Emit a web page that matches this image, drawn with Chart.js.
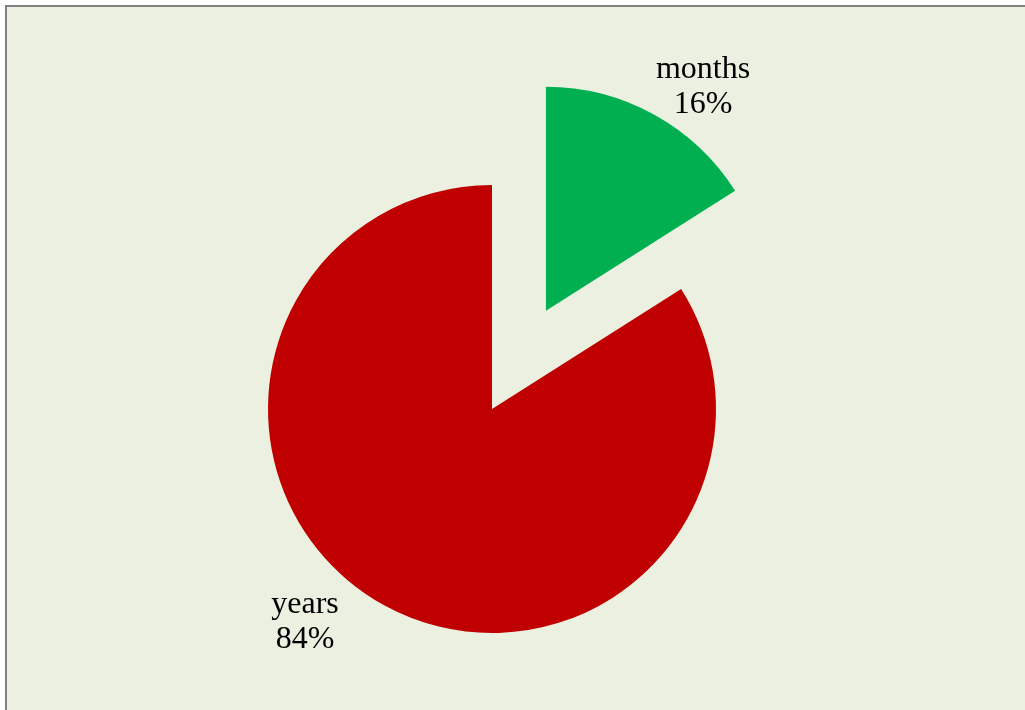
<!DOCTYPE html>
<html>
<head>
<meta charset="utf-8">
<script src="https://cdn.jsdelivr.net/npm/chart.js@4"></script>
<style>
  html, body { margin: 0; padding: 0; background: #ffffff; overflow: hidden; }
  #frame {
    position: absolute; left: 5px; top: 5px; width: 1040px; height: 720px;
    background: #ebf0e0; border: 2px solid #808080; box-sizing: border-box;
  }
  #wrap { position: absolute; left: 0; top: 0; width: 1025px; height: 710px; }
</style>
</head>
<body>
<div id="frame"></div>
<div id="wrap"><canvas id="c" width="1025" height="710"></canvas></div>
<script>
// Share of durations
const categories = ['months', 'years'];
const shares = [16, 84];
const sliceColors = ['#00b050', '#c00000'];

// How far (px) each slice is pulled out of the pie along its middle angle
const sliceExplode = [112, 0];

// Category name and percentage printed beside each slice, relative to the pie centre
const labelOffsets = [
  { dx: 211, dy: -331 },
  { dx: -187, dy: 204 }
];

// Pull slices outward by translating each arc before it is drawn
const explodeSlices = {
  id: 'explodeSlices',
  afterUpdate(chart) {
    chart.getDatasetMeta(0).data.forEach((arc, i) => {
      if (arc._explodeWrapped) return;
      const baseDraw = arc.draw;
      arc.draw = function (ctx, area) {
        const d = sliceExplode[i] || 0;
        const mid = (this.startAngle + this.endAngle) / 2;
        ctx.save();
        ctx.translate(Math.cos(mid) * d, Math.sin(mid) * d);
        baseDraw.call(this, ctx, area);
        ctx.restore();
      };
      arc._explodeWrapped = true;
    });
  }
};

const sliceLabels = {
  id: 'sliceLabels',
  afterDatasetsDraw(chart) {
    const ctx = chart.ctx;
    const meta = chart.getDatasetMeta(0);
    const total = shares.reduce((a, b) => a + b, 0);
    ctx.save();
    ctx.fillStyle = '#000000';
    ctx.font = '32px "Liberation Serif", "Times New Roman", serif';
    ctx.textAlign = 'center';
    ctx.textBaseline = 'alphabetic';
    meta.data.forEach((arc, i) => {
      const o = labelOffsets[i];
      const x = arc.x + o.dx;
      const y = arc.y + o.dy;
      const pct = Math.round(shares[i] / total * 100) + '%';
      ctx.fillText(categories[i], x, y);
      ctx.fillText(pct, x, y + 35);
    });
    ctx.restore();
  }
};

new Chart(document.getElementById('c'), {
  type: 'pie',
  data: {
    labels: categories,
    datasets: [{
      data: shares,
      backgroundColor: sliceColors,
      borderWidth: 0
    }]
  },
  options: {
    responsive: false,
    animation: false,
    radius: 224,
    layout: { padding: { left: 0, right: 41, top: 108, bottom: 0 } },
    plugins: {
      legend: { display: false },
      tooltip: { enabled: false }
    }
  },
  plugins: [explodeSlices, sliceLabels]
});
</script>
</body>
</html>
